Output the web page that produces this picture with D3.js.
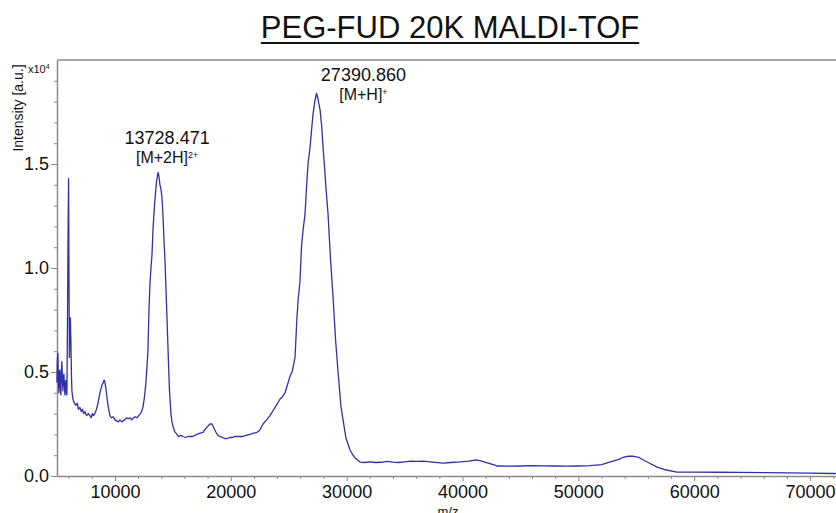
<!DOCTYPE html>
<html>
<head>
<meta charset="utf-8">
<script src="https://cdn.jsdelivr.net/npm/d3@7"></script>
<style>
  html, body { margin: 0; padding: 0; background: #fff; overflow: hidden; }
  svg { display: block; font-family: "Liberation Sans", Arial, sans-serif; }
</style>
</head>
<body>
<div id="chart"></div>
<script>
// spectrum: m/z and intensity (x10^4 a.u.)
const mzValues = [
  4990, 5030, 5077, 5120, 5164, 5210, 5250, 5290, 5336, 5380, 5423, 5465, 5509, 5550, 5596, 5640,
  5682, 5725, 5768, 5810, 5855, 5900, 5960, 6001, 6030, 6070, 6120, 6157, 6200, 6250, 6286, 6373,
  6500, 6632, 6750, 6850, 6977, 7100, 7200, 7300, 7409, 7550, 7700, 7841, 7950, 8050, 8150, 8273,
  8400, 8500, 8600, 8705, 8800, 8900, 8964, 9050, 9100, 9136, 9200, 9309, 9400, 9500, 9568, 9700,
  9850, 10000, 10150, 10300, 10432, 10600, 10691, 10850, 11000, 11150, 11295, 11450, 11600, 11750,
  11900, 12050, 12200, 12300, 12418, 12550, 12677, 12760, 12850, 12940, 13023, 13110, 13195, 13300,
  13454, 13600, 13728, 13800, 13886, 13970, 14059, 14150, 14230, 14318, 14450, 14577, 14700, 14836,
  14920, 15009, 15150, 15354, 15500, 15700, 15872, 16100, 16300, 16477, 16700, 16900, 17081, 17300,
  17600, 17800, 18032, 18200, 18377, 18550, 18723, 18900, 19068, 19300, 19500, 19673, 19900, 20100,
  20363, 20600, 20800, 21054, 21300, 21659, 21900, 22263, 22500, 22781, 23100, 23386, 23600, 23818,
  24050, 24250, 24450, 24682, 24900, 25113, 25286, 25400, 25545, 25700, 25804, 25977, 26100, 26236,
  26409, 26550, 26668, 26840, 27000, 27099, 27250, 27391, 27500, 27600, 27704, 27850, 27963, 28100,
  28222, 28395, 28600, 28827, 29050, 29258, 29500, 29690, 29950, 30295, 30550, 30727, 31000, 31159,
  31500, 32000, 32500, 33000, 33500, 34000, 34500, 35000, 35500, 36000, 36600, 37200, 38300, 39000,
  39800, 40500, 41200, 41500, 42000, 42800, 43000, 44000, 45000, 46000, 47000, 48000, 49000, 50000,
  51000, 52000, 52700, 53500, 53860, 54300, 54700, 55200, 55600, 56200, 56800, 57500, 58500, 60000,
  62000, 64000, 66000, 68000, 70000, 72000, 73000
];
const intensityValues = [
  0.45, 0.56, 0.59, 0.45, 0.40, 0.50, 0.51, 0.43, 0.39, 0.50, 0.55, 0.47, 0.41, 0.47, 0.49, 0.44,
  0.39, 0.44, 0.46, 0.40, 0.39, 0.70, 1.20, 1.43, 1.00, 0.57, 0.70, 0.76, 0.65, 0.48, 0.41, 0.37,
  0.35, 0.34, 0.35, 0.32, 0.33, 0.31, 0.32, 0.30, 0.31, 0.29, 0.30, 0.29, 0.28, 0.30, 0.29, 0.30,
  0.32, 0.34, 0.37, 0.40, 0.42, 0.44, 0.445, 0.46, 0.46, 0.45, 0.43, 0.38, 0.34, 0.31, 0.29, 0.28,
  0.285, 0.27, 0.265, 0.26, 0.27, 0.26, 0.265, 0.27, 0.28, 0.275, 0.28, 0.27, 0.28, 0.285,
  0.28, 0.29, 0.30, 0.31, 0.33, 0.38, 0.45, 0.52, 0.60, 0.80, 0.92, 1.00, 1.06, 1.20,
  1.33, 1.42, 1.46, 1.44, 1.40, 1.38, 1.34, 1.25, 1.14, 1.04, 0.83, 0.62, 0.42, 0.30,
  0.26, 0.24, 0.215, 0.20, 0.19, 0.195, 0.19, 0.185, 0.19, 0.19, 0.19, 0.195, 0.20, 0.205,
  0.21, 0.225, 0.24, 0.25, 0.25, 0.23, 0.21, 0.195, 0.19, 0.185, 0.18, 0.18, 0.185, 0.185,
  0.19, 0.19, 0.19, 0.19, 0.195, 0.20, 0.205, 0.21, 0.22, 0.25, 0.27, 0.29, 0.31, 0.33,
  0.35, 0.37, 0.38, 0.40, 0.44, 0.48, 0.50, 0.53, 0.57, 0.75, 0.84, 0.94, 1.10, 1.18,
  1.26, 1.40, 1.50, 1.58, 1.68, 1.74, 1.80, 1.84, 1.82, 1.79, 1.76, 1.68, 1.58, 1.48,
  1.38, 1.26, 1.05, 0.86, 0.65, 0.50, 0.34, 0.27, 0.18, 0.125, 0.10, 0.087, 0.075, 0.067,
  0.065, 0.068, 0.065, 0.066, 0.070, 0.067, 0.065, 0.068, 0.072, 0.070, 0.072, 0.068, 0.062, 0.065,
  0.068, 0.072, 0.077, 0.074, 0.065, 0.052, 0.048, 0.047, 0.048, 0.050, 0.049, 0.048, 0.047, 0.048,
  0.050, 0.055, 0.067, 0.080, 0.090, 0.095, 0.096, 0.090, 0.077, 0.060, 0.043, 0.030, 0.019, 0.019,
  0.018, 0.017, 0.016, 0.015, 0.014, 0.012, 0.012
];

const xTickValues = [10000, 20000, 30000, 40000, 50000, 60000, 70000];
const yTickValues = [0.0, 0.5, 1.0, 1.5];

const peakMz = [13728.471, 27390.860];
const peakIntensity = [1.46, 1.84];
const peakMass = ["13728.471", "27390.860"];
const peakIon = ["[M+2H]", "[M+H]"];
const peakCharge = ["2+", "+"];

const chartTitle = "PEG-FUD 20K MALDI-TOF";

const width = 836;
const height = 513;
const margin = { top: 60, left: 57, bottom: 37 };
const plotRight = 868;  // frame runs past the window edge

const svg = d3.select("#chart")
  .append("svg")
  .attr("width", width)
  .attr("height", height);

const spectrum = mzValues.map((m, i) => ({ mz: m, y: intensityValues[i] }));

// =====================
// SCALES
// =====================
const x = d3.scaleLinear()
  .domain([5000, 75000])
  .range([margin.left, plotRight]);

const y = d3.scaleLinear()
  .domain([0, 2])
  .range([height - margin.bottom, margin.top]);

const axisColor = "#8a8a8a";

// =====================
// AXES
// =====================
const xMinor = d3.range(6000, 75000, 2000).filter(v => v % 10000 !== 0);
const yMinor = d3.range(1, 20).map(v => v / 10).filter(v => Math.round(v * 10) % 5 !== 0);

svg.append("g")
  .attr("transform", `translate(0,${y(0)})`)
  .call(d3.axisBottom(x).tickValues(xMinor).tickSize(3).tickFormat("").tickSizeOuter(0))
  .call(g => g.select(".domain").remove())
  .call(g => g.selectAll("line").attr("stroke", axisColor));

const xAxis = svg.append("g")
  .attr("transform", `translate(0,${y(0)})`)
  .call(d3.axisBottom(x).tickValues(xTickValues).tickSize(5).tickSizeOuter(0).tickFormat(d3.format("d")).tickPadding(4));
xAxis.select(".domain").attr("stroke", axisColor).attr("stroke-width", 1.5);
xAxis.selectAll("line").attr("stroke", axisColor);
xAxis.selectAll("text").attr("fill", "#111").style("font-size", "18px")
  .style("font-family", "'Liberation Sans', Arial, sans-serif");

svg.append("g")
  .attr("transform", `translate(${margin.left},0)`)
  .call(d3.axisLeft(y).tickValues(yMinor).tickSize(3).tickFormat("").tickSizeOuter(0))
  .call(g => g.select(".domain").remove())
  .call(g => g.selectAll("line").attr("stroke", axisColor));

const yAxis = svg.append("g")
  .attr("transform", `translate(${margin.left},0)`)
  .call(d3.axisLeft(y).tickValues(yTickValues).tickSize(6).tickSizeOuter(0).tickFormat(d3.format(".1f")).tickPadding(2));
yAxis.select(".domain").attr("stroke", axisColor).attr("stroke-width", 1.5);
yAxis.selectAll("line").attr("stroke", axisColor);
yAxis.selectAll("text").attr("fill", "#111").style("font-size", "18px")
  .style("font-family", "'Liberation Sans', Arial, sans-serif");

// top frame
svg.append("line")
  .attr("x1", margin.left).attr("x2", plotRight)
  .attr("y1", y(2)).attr("y2", y(2))
  .attr("stroke", axisColor).attr("stroke-width", 1.5);

// =====================
// SPECTRUM
// =====================
svg.append("path")
  .datum(spectrum)
  .attr("fill", "none")
  .attr("stroke", "#3030a8")
  .attr("stroke-width", 1.3)
  .attr("stroke-linejoin", "round")
  .attr("d", d3.line().x(d => x(d.mz)).y(d => y(d.y)));

// =====================
// PEAK LABELS
// =====================
const labelShift = [{ dx: 9, dy: -28 }, { dx: 47, dy: -12 }];

peakMz.forEach((m, i) => {
  const cx = x(m) + labelShift[i].dx;
  const by = y(peakIntensity[i]) + labelShift[i].dy;
  svg.append("text")
    .attr("x", cx).attr("y", by)
    .attr("text-anchor", "middle")
    .style("font-size", "18px")
    .attr("fill", "#111")
    .text(peakMass[i]);
  const t = svg.append("text")
    .attr("x", cx).attr("y", by + 19)
    .attr("text-anchor", "middle")
    .style("font-size", "16px")
    .attr("fill", "#111");
  t.append("tspan").text(peakIon[i]);
  t.append("tspan").attr("dy", -5).style("font-size", "9px").text(peakCharge[i]);
});

// =====================
// TITLE & AXIS TITLES
// =====================
const title = svg.append("text")
  .attr("x", 450)
  .attr("y", 38)
  .attr("text-anchor", "middle")
  .style("font-size", "31px")
  .attr("fill", "#111")
  .text(chartTitle);
const tb = title.node().getBBox();
svg.append("line")
  .attr("x1", tb.x).attr("x2", tb.x + tb.width)
  .attr("y1", 43).attr("y2", 43)
  .attr("stroke", "#111").attr("stroke-width", 2);

svg.append("text")
  .attr("transform", "translate(23,108) rotate(-90)")
  .attr("text-anchor", "middle")
  .style("font-size", "14px")
  .attr("fill", "#111")
  .text("Intensity [a.u.]");

const exp = svg.append("text")
  .attr("x", 28).attr("y", 73)
  .style("font-size", "11px")
  .attr("fill", "#111");
exp.append("tspan").text("x10");
exp.append("tspan").attr("dy", -4).style("font-size", "7px").text("4");

svg.append("text")
  .attr("x", 448).attr("y", 516)
  .attr("text-anchor", "middle")
  .style("font-size", "13px")
  .attr("fill", "#111")
  .text("m/z");
</script>
</body>
</html>
